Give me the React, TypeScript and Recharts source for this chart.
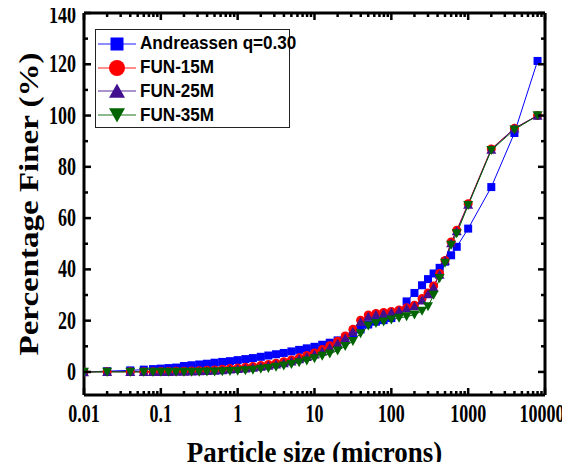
import { LineChart, Line, XAxis, YAxis, Legend } from 'recharts';

// particle sizes (microns)
const sizes = [
  0.01, 0.02, 0.04, 0.06,
  0.079, 0.1, 0.126, 0.158, 0.2, 0.251, 0.316, 0.398, 0.501, 0.631, 0.794,
  1, 1.26, 1.58, 2, 2.51, 3.16, 3.98, 5.01, 6.31, 7.94,
  10, 12.6, 15.8, 20, 25.1, 31.6, 39.8, 50.1, 63.1, 79.4,
  100, 126, 158, 200, 251,
  300, 355, 425, 500, 600, 710,
  1000, 2000, 4000, 8000,
];

const andreassen = [
  0, 0.3, 0.6, 0.9,
  1.1, 1.3, 1.5, 1.7, 2.3, 2.6, 2.9, 3.2, 3.6, 3.9, 4.2,
  4.6, 5.0, 5.4, 5.9, 6.4, 6.9, 7.4, 8.0, 8.6, 9.2,
  9.8, 10.6, 11.4, 12.3, 13.4, 14.8, 16.6, 18.5, 19.6, 20.2,
  21.0, 23.5, 27.5, 30.8, 33.8,
  36.2, 38.4, 40.6, 43.0, 45.5, 48.8,
  55.9, 72.1, 93.2, 121.3,
];

const fun15 = [
  0, 0.1, 0.1, 0.1,
  0.1, 0.2, 0.2, 0.3, 0.3, 0.4, 0.5, 0.7, 0.8, 1.0, 1.3,
  1.5, 1.8, 2.1, 2.5, 2.9, 3.4, 4.0, 4.7, 5.5, 6.4,
  7.4, 8.7, 10.2, 12.0, 14.0, 16.6, 20.2, 22.2, 22.8, 23.2,
  23.6, 24.2, 25.0, 26.0, 28.6,
  30.8, 33.5, 38.4, 43.5, 50.7, 55.3,
  65.6, 87.0, 95.0, 100,
];

const fun25 = [
  0, 0.1, 0.1, 0.1,
  0.1, 0.1, 0.1, 0.2, 0.2, 0.3, 0.4, 0.5, 0.6, 0.8, 1.0,
  1.2, 1.4, 1.7, 2.1, 2.5, 3.0, 3.5, 4.2, 5.0, 5.9,
  6.9, 8.1, 9.5, 11.2, 13.2, 15.8, 19.6, 21.6, 22.4, 22.8,
  23.3, 23.9, 24.8, 25.7, 28.0,
  30.4, 33.0, 38.0, 43.5, 50.3, 55.0,
  65.3, 86.8, 95.0, 100,
];

const fun35 = [
  0, 0, 0, 0,
  0, 0, 0, 0, 0, 0, 0, 0.1, 0.1, 0.2, 0.3,
  0.4, 0.6, 0.8, 1.1, 1.4, 1.9, 2.4, 3.0, 3.7, 4.4,
  5.2, 6.2, 7.1, 8.3, 10.0, 12.0, 15.0, 18.0, 19.0, 19.6,
  20.4, 21.0, 21.6, 22.3, 23.8,
  25.5, 30.0, 36.5, 42.5, 49.5, 54.0,
  65.0, 86.5, 94.5, 100,
];

const xMajor = [0.01, 0.1, 1, 10, 100, 1000, 10000];
const xMinor = [
  0.02, 0.03, 0.04, 0.05, 0.06, 0.07, 0.08, 0.09,
  0.2, 0.3, 0.4, 0.5, 0.6, 0.7, 0.8, 0.9,
  2, 3, 4, 5, 6, 7, 8, 9,
  20, 30, 40, 50, 60, 70, 80, 90,
  200, 300, 400, 500, 600, 700, 800, 900,
  2000, 3000, 4000, 5000, 6000, 7000, 8000, 9000,
];
const yMajor = [0, 20, 40, 60, 80, 100, 120, 140];
const yMinor = [10, 30, 50, 70, 90, 110, 130];

const data = sizes.map((s, i) => ({
  size: s,
  andreassen: andreassen[i],
  fun15: fun15[i],
  fun25: fun25[i],
  fun35: fun35[i],
}));

const series = [
  { key: 'andreassen', name: 'Andreassen q=0.30', color: '#0000ff', shape: 'square' },
  { key: 'fun15', name: 'FUN-15M', color: '#ff0000', shape: 'circle' },
  { key: 'fun25', name: 'FUN-25M', color: '#42108f', shape: 'up' },
  { key: 'fun35', name: 'FUN-35M', color: '#006400', shape: 'down' },
];

const serif = '"Liberation Serif", "Times New Roman", serif';
const sans = '"Liberation Sans", Arial, sans-serif';
const frame = { stroke: '#000', strokeWidth: 3 };

function Marker({ shape, cx, cy, size, color }: any) {
  const h = size / 2;
  if (shape === 'square') return <rect x={cx - h} y={cy - h} width={size} height={size} fill={color} />;
  if (shape === 'circle') return <circle cx={cx} cy={cy} r={h} fill={color} />;
  if (shape === 'up')
    return <polygon points={`${cx - h},${cy + h * 0.85} ${cx + h},${cy + h * 0.85} ${cx},${cy - h * 0.95}`} fill={color} />;
  return <polygon points={`${cx - h},${cy - h * 0.85} ${cx + h},${cy - h * 0.85} ${cx},${cy + h * 0.95}`} fill={color} />;
}

const isMajorX = (v: number) => xMajor.includes(v);
const isMajorY = (v: number) => yMajor.includes(v);

// narrow bold serif, the source picture is squeezed sideways
function TickText({ x, y, anchor, children }: any) {
  return (
    <text
      transform={`translate(${x},${y}) scale(0.72,1)`}
      textAnchor={anchor}
      fontFamily={serif}
      fontWeight="bold"
      fontSize={25}
      fill="#000"
    >
      {children}
    </text>
  );
}

function BottomTick({ x, y, payload }: any) {
  const major = isMajorX(payload.value);
  return (
    <g>
      <path d={`M${x},${y}V${y - (major ? 7 : 4)}`} stroke="#000" strokeWidth={2.5} fill="none" />
      {major && (
        <TickText x={Math.min(x, 542)} y={y + 27} anchor="middle">
          {payload.value}
        </TickText>
      )}
    </g>
  );
}

function TopTick({ x, y, payload }: any) {
  const major = isMajorX(payload.value);
  return <path d={`M${x},${y}V${y + (major ? 7 : 4)}`} stroke="#000" strokeWidth={2.5} fill="none" />;
}

function LeftTick({ x, y, payload }: any) {
  const major = isMajorY(payload.value);
  return (
    <g>
      <path d={`M${x},${y}H${x + (major ? 7 : 4)}`} stroke="#000" strokeWidth={2.5} fill="none" />
      {major && (
        <TickText x={x - 8} y={Math.max(y + 8, 23)} anchor="end">
          {payload.value}
        </TickText>
      )}
    </g>
  );
}

function RightTick({ x, y, payload }: any) {
  const major = isMajorY(payload.value);
  return <path d={`M${x},${y}H${x - (major ? 7 : 4)}`} stroke="#000" strokeWidth={2.5} fill="none" />;
}

function LegendBox() {
  return (
    <div
      style={{
        width: 195,
        height: 99,
        border: '1.5px solid #222',
        background: '#fff',
        boxSizing: 'border-box',
        paddingTop: 2,
      }}
    >
      {series.map((s) => (
        <div key={s.key} style={{ display: 'flex', alignItems: 'center', height: 23.8 }}>
          <svg width={44} height={22} style={{ flex: 'none' }}>
            <line x1={2} x2={40} y1={11} y2={11} stroke={s.color} strokeOpacity={0.6} strokeWidth={1.5} />
            <Marker shape={s.shape} cx={21} cy={11} size={s.shape === 'square' ? 13 : 16} color={s.color} />
          </svg>
          <span
            style={{
              display: 'inline-block',
              fontFamily: sans,
              fontWeight: 'bold',
              fontSize: 18,
              color: '#000',
              whiteSpace: 'nowrap',
              transform: 'scaleX(0.95)',
              transformOrigin: 'left center',
            }}
          >
            {s.name}
          </span>
        </div>
      ))}
    </div>
  );
}

export default function App() {
  return (
    <div style={{ margin: -8, width: 570, height: 470, background: '#fff', overflow: 'hidden' }}>
      <LineChart width={570} height={470} data={data} margin={{ top: 12, right: 24, bottom: 45, left: 14 }}>
        <XAxis
          dataKey="size"
          type="number"
          scale="log"
          domain={[0.01, 10000]}
          allowDataOverflow
          ticks={[...xMajor, ...xMinor]}
          interval={0}
          tickSize={0}
          tickMargin={0}
          tickLine={false}
          tick={<BottomTick />}
          axisLine={frame}
          height={30}
          label={{
            content: ({ viewBox }: any) => (
              <text
                transform={`translate(${viewBox.x + viewBox.width / 2},462) scale(0.93,1)`}
                textAnchor="middle"
                fontFamily={serif}
                fontWeight="bold"
                fontSize={29}
                fill="#000"
              >
                Particle size (microns)
              </text>
            ),
          }}
        />
        <XAxis
          xAxisId="top"
          orientation="top"
          dataKey="size"
          type="number"
          scale="log"
          domain={[0.01, 10000]}
          allowDataOverflow
          ticks={[...xMajor, ...xMinor]}
          interval={0}
          tickSize={0}
          tickMargin={0}
          tickLine={false}
          tick={<TopTick />}
          axisLine={frame}
          height={1}
        />
        <YAxis
          type="number"
          domain={[-9, 140]}
          allowDataOverflow
          ticks={[...yMajor, ...yMinor]}
          interval={0}
          tickSize={0}
          tickMargin={0}
          tickLine={false}
          tick={<LeftTick />}
          axisLine={frame}
          width={70}
          label={{
            content: ({ viewBox }: any) => {
              const cx = 29;
              const cy = viewBox.y + viewBox.height / 2;
              return (
                <text
                  transform={`translate(${cx},${cy}) scale(0.8,1) rotate(-90)`}
                  textAnchor="middle"
                  dominantBaseline="central"
                  fontFamily={serif}
                  fontWeight="bold"
                  fontSize={33}
                  fill="#000"
                >
                  Percentage Finer (%)
                </text>
              );
            },
          }}
        />
        <YAxis
          yAxisId="right"
          orientation="right"
          type="number"
          domain={[-9, 140]}
          allowDataOverflow
          ticks={[...yMajor, ...yMinor]}
          interval={0}
          tickSize={0}
          tickMargin={0}
          tickLine={false}
          tick={<RightTick />}
          axisLine={frame}
          width={1}
        />
        <Legend
          layout="vertical"
          align="center"
          verticalAlign="middle"
          content={() => <LegendBox />}
          wrapperStyle={{ top: 29, left: 95, width: 195 }}
        />
        {series.map((s) => (
          <Line
            key={s.key}
            dataKey={s.key}
            name={s.name}
            stroke={s.color}
            strokeWidth={1}
            isAnimationActive={false}
            dot={(p: any) => (
              <Marker
                key={`${s.key}-${p.index}`}
                shape={s.shape}
                cx={p.cx}
                cy={p.cy}
                size={s.shape === 'square' ? 8 : s.shape === 'circle' ? 9 : 10}
                color={s.color}
              />
            )}
            activeDot={false}
          />
        ))}
      </LineChart>
    </div>
  );
}
